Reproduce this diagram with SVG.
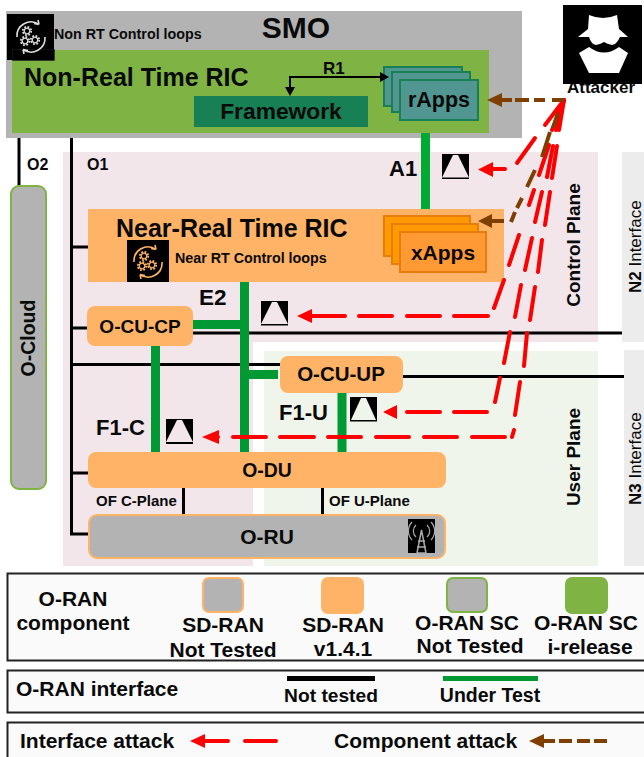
<svg xmlns="http://www.w3.org/2000/svg" width="644" height="757" viewBox="0 0 644 757">
<style>
text{font-family:"Liberation Sans",Arial,sans-serif;font-weight:700;fill:#0a0a0a}
.m{text-anchor:middle}
.reg{font-weight:400}
.blk{stroke:#000;stroke-width:3;fill:none}
.grn{stroke:#009933;stroke-width:9;fill:none}
.red{stroke:#ff0000;stroke-width:4;stroke-linecap:round;fill:none}
.brn{stroke:#7f3f00;stroke-width:4;fill:none}
.box{fill:#fafafa;stroke:#222;stroke-width:2}
.org{fill:#ffb366}
.gy{fill:#b3b3b3}
</style>
<defs>
<g id="cog"><circle r="2.800" fill="none" stroke="currentColor" stroke-width="1.300"/><circle r="4.200" fill="none" stroke="currentColor" stroke-width="1.800" stroke-dasharray="1.800 1.500"/></g>
<g id="gear"><use href="#cog" x="-4" y="-6"/><use href="#cog" x="-6" y="4"/><use href="#cog" x="4" y="3"/><path d="M-14,0 A14,14 0 0 1 8,-12.500 M14,0 A14,14 0 0 1 -8,12.500 M8,-12.500 l-5,-1 M8,-12.500 l-1,-4.500 M-8,12.500 l5,1 M-8,12.500 l1,4.500" fill="none" stroke="currentColor" stroke-width="1.600"/></g>
</defs>

<g id="planes">
<path d="M63,152 H598 V342 H253 V566 H63 Z" fill="#f2e6ea"/>
<rect x="264" y="351" width="334" height="215" fill="#eff5ea"/>
<rect x="622" y="152" width="22" height="190" fill="#ececec"/>
<rect x="624" y="350" width="20" height="216" fill="#ececec"/>
<text class="m" transform="translate(580,245) rotate(-90)" font-size="19">Control Plane</text>
<text class="m" transform="translate(580,457) rotate(-90)" font-size="19">User Plane</text>
<text transform="translate(641,293) rotate(-90)" font-size="17">N2 <tspan class="reg">Interface</tspan></text>
<text transform="translate(641,505) rotate(-90)" font-size="17">N3 <tspan class="reg">Interface</tspan></text>
<text x="27" y="170" font-size="16">O2</text>
<text x="87" y="170" font-size="16">O1</text>
<text x="389" y="176" font-size="22">A1</text>
<text x="199" y="305" font-size="22.500">E2</text>
<text x="96" y="435" font-size="22">F1-C</text>
<text x="279" y="420" font-size="22">F1-U</text>
<text x="96" y="506" font-size="15">OF C-Plane</text>
<text x="329" y="506" font-size="15">OF U-Plane</text>
</g>

<g id="smo">
<rect x="6" y="11" width="516" height="127" fill="#b3b3b3"/>
<text class="m" x="296" y="38" font-size="30">SMO</text>
<text x="54" y="39" font-size="14.300">Non RT Control loops</text>
</g>
<g id="non-rt-ric">
<rect x="12" y="50" width="477" height="83" fill="#7fb344"/>
<text x="24" y="86" font-size="25">Non-Real Time RIC</text>
</g>
<g id="loop-icon-1">
<rect x="7" y="14" width="47" height="46" fill="#000"/>
<rect x="12.500" y="49.500" width="42" height="11" fill="#000" stroke="#222" stroke-width=".5"/>
<use href="#gear" transform="translate(31,37)" color="#ddd"/>
</g>
<g id="framework">
<rect x="194" y="96" width="174" height="31" fill="#178055"/>
<text class="m" x="281" y="119" font-size="22.800">Framework</text>
</g>
<text x="323" y="74" font-size="17">R1</text>
<g id="rapps" fill="#519690" stroke="#178055" stroke-width="2">
<rect x="384" y="67" width="78" height="39"/>
<rect x="392" y="72" width="78" height="40"/>
<rect x="400" y="80" width="78" height="40"/>
<text class="m" x="439" y="107" font-size="21.500" stroke="none">rApps</text>
</g>

<g id="connectors">
<path class="blk" d="M19,138 V186"/>
<path class="blk" d="M71.500,138 V534 H89 M71.500,247 H88 M71.500,328 H87 M71.500,364.500 H280 M71.500,473 H88"/>
<path class="blk" d="M193,333 H622 M403,376.500 H624 M183.500,488 V515 M322.500,488 V515"/>
<path class="grn" d="M155.500,346 V452 M244.500,282 V452 M193,324.500 H244 M244,374.500 H278 M342,393 V452"/>
<path d="M425.500,133 V210" stroke="#00aa33" stroke-width="9" fill="none"/>
<path d="M290,92 V77 H380" stroke="#000" stroke-width="2" fill="none"/>
<path d="M285,87 H295 L290,96 Z M380,72 L389,77 L380,82 Z" fill="#000"/>
</g>

<g id="near-rt-ric">
<rect x="88" y="209" width="416" height="73" class="org"/>
<text x="116" y="237" font-size="25">Near-Real Time RIC</text>
<text x="175" y="263" font-size="14.300">Near RT Control loops</text>
<rect x="127" y="240" width="42" height="42" fill="#000"/>
<use href="#gear" transform="translate(148,262)" color="#ffb366"/>
</g>
<g id="xapps" stroke="#e87d0d" stroke-width="2">
<rect x="384" y="216" width="86" height="40" fill="#ff9900"/>
<rect x="392" y="224" width="86" height="40" fill="#ff9900"/>
<rect x="400" y="232" width="86" height="40" fill="#ff9933"/>
<text class="m" x="443" y="260" font-size="21" stroke="none">xApps</text>
</g>
<g id="o-cu-cp"><rect x="87" y="306" width="106" height="40" rx="8" class="org"/><text class="m" x="140" y="333" font-size="19">O-CU-CP</text></g>
<g id="o-cu-up"><rect x="280" y="356" width="123" height="37" rx="8" class="org"/><text class="m" x="341" y="381" font-size="20.500">O-CU-UP</text></g>
<g id="o-du"><rect x="88" y="452" width="358" height="36" rx="8" class="org"/><text class="m" x="267" y="477" font-size="19.400">O-DU</text></g>
<g id="o-ru"><rect x="89" y="515" width="356" height="43" rx="8" class="gy" stroke="#ffb366" stroke-width="2"/><text class="m" x="267" y="544" font-size="21">O-RU</text>
<rect x="408" y="519" width="27" height="34" fill="#000"/>
<path d="M421.500,530 L417,553 H426 Z M418,541 H425 M417,547 H426" fill="none" stroke="#aaa" stroke-width="1.500"/>
<path d="M416,537 A8,8 0 0 1 416,525 M427,525 A8,8 0 0 1 427,537 M412,540 A13,13 0 0 1 412,522 M431,522 A13,13 0 0 1 431,540" fill="none" stroke="#aaa" stroke-width="1.200"/></g>
<g id="o-cloud"><rect x="11" y="186" width="35" height="303" rx="8" class="gy" stroke="#7fb344" stroke-width="2"/><text class="m" transform="translate(35,338) rotate(-90)" font-size="19.500">O-Cloud</text></g>

<g id="attacker">
<text class="m" x="601" y="93" font-size="17">Attacker</text>
<rect x="563" y="5" width="79" height="79" fill="#000"/>
<path d="M589,15 Q603,21 617,15 L619,29 L628,37 H620 Q617,44 612,45 Q607,44 604,42 Q601,44 596,45 Q591,44 589,37 H578 L588,29 Z" fill="#fff"/>
<path d="M589,47 Q604,58 619,47 L628,53 L619,73 H589 L579,53 Z" fill="#fff"/>
</g>

<g id="attack-icons">
<g transform="translate(442,154)"><rect width="27" height="25" fill="#000"/><path d="M0,23.500 L11,1 H16 L27,23.500 Z" fill="#f2e6ea"/></g>
<g transform="translate(261,301)"><rect width="27" height="24.500" fill="#000"/><path d="M0,23 L11,1 H16 L27,23 Z" fill="#f2e6ea"/></g>
<g transform="translate(350,397)"><rect width="27" height="24.500" fill="#000"/><path d="M1,23 L11,1 H16 L26,23 Z" fill="#eff5ea"/></g>
<g transform="translate(166,419)"><rect width="27" height="25" fill="#000"/><path d="M0,23 L11,1 H16 L27,23 Z" fill="#f2e6ea"/></g>
</g>

<g id="attack-red">
<path class="red" d="M545,125 L564,100 M517,163 L535,138"/>
<path class="red" d="M505,169 H492"/><path d="M478,169.500 L493,162 V177 Z" fill="#ff0000"/>
<path class="red" d="M312,316 H345 M359,316 H392 M407,316 H440 M454,316 H488 M494,308 L504,280 M509,265 L519,235 M529,205 L534,190 M539,175 L549,145 M552,130 L564,100"/>
<path d="M297,316 L312,309 V323 Z" fill="#ff0000"/>
<path class="red" d="M407,412 H440 M454,412 H487 M495,402 L500,378 M504,363 L510,332 M515,317 L521,285 M525,270 L532,238 M535,222 L542,192 M547,177 L553,146 M556,130 L564,100"/>
<path d="M383,412 L397,405 V419 Z" fill="#ff0000"/>
<path class="red" d="M210,437 H218 M233,437 H266 M280,437 H314 M328,437 H361 M376,437 H409 M424,437 H457 M472,437 H505 M512,437 L514,430 M515,415 L520,382 M524,366 L527,333 M530,320 L535,287 M538,272 L542,240 M545,225 L550,192 M552,178 L557,146 M559,130 L564,100"/>
<path d="M202,437 L219,430 V444 Z" fill="#ff0000"/>
</g>

<g id="attack-brown">
<path class="brn" d="M500,100 H512 M515,100 H529 M534,100 H545 M552,100 H564 M558,113 L553,128 M550,132 L542,157 M535,170 L527,187 M522,198 L517,208 M515,212 L511,222"/>
<path d="M487,100 L502,93 V107 Z" fill="#7f3f00"/>
<path class="brn" d="M490,221 H504"/>
<path d="M478,221 L492,214 V228 Z" fill="#7f3f00"/>
</g>

<g id="legend">
<rect x="7.500" y="573.500" width="640" height="87" class="box"/>
<rect x="7.500" y="670.500" width="640" height="42" class="box"/>
<rect x="7.500" y="722.500" width="640" height="40" class="box"/>
<text class="m" x="73" y="606" font-size="21">O-RAN</text>
<text class="m" x="73" y="630" font-size="21">component</text>
<rect x="203" y="578" width="40" height="34" rx="6" class="gy" stroke="#ffb366" stroke-width="2"/>
<rect x="321" y="577" width="43" height="37" rx="7" class="org"/>
<rect x="447" y="578" width="40" height="34" rx="6" class="gy" stroke="#7fb344" stroke-width="2"/>
<rect x="565" y="577" width="43" height="37" rx="7" fill="#7fb344"/>
<text class="m" x="223" y="632" font-size="21">SD-RAN</text>
<text class="m" x="223" y="657" font-size="21">Not Tested</text>
<text class="m" x="343" y="632" font-size="21">SD-RAN</text>
<text class="m" x="343" y="656" font-size="21">v1.4.1</text>
<text class="m" x="467" y="630" font-size="21">O-RAN SC</text>
<text class="m" x="470" y="653" font-size="21">Not Tested</text>
<text class="m" x="586" y="630" font-size="21">O-RAN SC</text>
<text class="m" x="590" y="654" font-size="21">i-release</text>
<text x="16" y="696" font-size="21">O-RAN interface</text>
<rect x="287" y="676" width="88" height="5" fill="#000"/>
<rect x="443" y="676" width="95" height="5" fill="#009933"/>
<text class="m" x="331" y="702" font-size="19.200">Not tested</text>
<text class="m" x="490" y="702" font-size="19.500">Under Test</text>
<text x="20" y="748" font-size="21">Interface attack</text>
<path class="red" d="M203,741 H228 M245,741 H276"/>
<path d="M190,741 L205,734 V748 Z" fill="#ff0000"/>
<text x="334" y="748" font-size="21">Component attack</text>
<path class="brn" d="M540,741 H555 M559,741 H572 M577,741 H590 M594,741 H607"/>
<path d="M529,741 L544,734 V748 Z" fill="#7f3f00"/>
</g>
</svg>
